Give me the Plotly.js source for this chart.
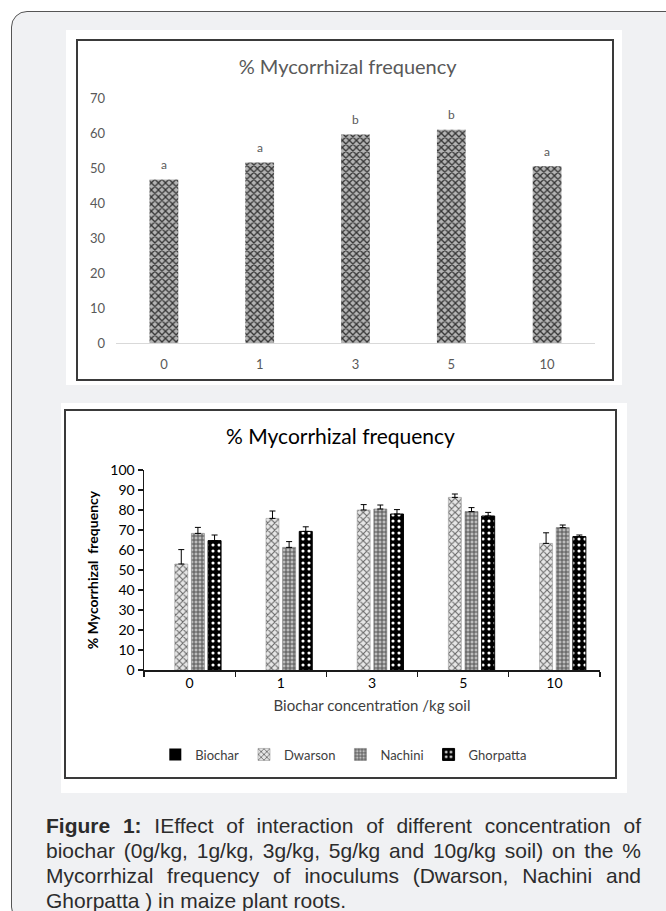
<!DOCTYPE html>
<html>
<head>
<meta charset="utf-8">
<script src="https://cdn.plot.ly/plotly-3.0.1.min.js"></script>
<style>
  html, body { margin: 0; padding: 0; background: #ffffff; }
  body { width: 666px; height: 911px; position: relative; overflow: hidden; }
  #frame { position: absolute; left: 11px; top: 11px; width: 690px; height: 912px;
           border: 1.5px solid #555; border-radius: 16px; background: #f0f1f3; box-sizing: border-box; }
  .panel { position: absolute; background: #ffffff; }
  .chart { position: absolute; }
  .box { position: absolute; border: 2px solid #3a3a3a; box-sizing: border-box; pointer-events: none; }
  #caption { position: absolute; left: 46px; top: 813px; width: 595px;
             font-family: "Liberation Sans", Arial, sans-serif; font-size: 21px; line-height: 25px; color: #2c2c2c; }
  #caption div { text-align: justify; text-align-last: justify; white-space: nowrap; }
  #caption div.last { text-align: left; text-align-last: left; }
</style>
</head>
<body>
<div id="frame"></div>
<div class="panel" style="left:66px; top:30px; width:556px; height:355px;"></div>
<div class="panel" style="left:61px; top:403px; width:566px; height:390px;"></div>
<div id="chart1" class="chart" style="left:77px; top:40px; width:536px; height:340px;"></div>
<div class="box" style="left:76px; top:39px; width:538px; height:342px;"></div>
<div id="chart2" class="chart" style="left:65px; top:410px; width:551px; height:368px;"></div>
<div class="box" style="left:64px; top:409px; width:553px; height:370px;"></div>
<div id="caption">
  <div><b>Figure 1:</b> IEffect of interaction of different concentration of</div>
  <div>biochar (0g/kg, 1g/kg, 3g/kg, 5g/kg and 10g/kg soil) on the %</div>
  <div>Mycorrhizal frequency of inoculums (Dwarson, Nachini and</div>
  <div class="last">Ghorpatta ) in maize plant roots.</div>
</div>
<script>
// Upper chart: overall % mycorrhizal frequency per biochar dose
const doses = ['0', '1', '3', '5', '10'];
const overallFreq = [46.7, 51.6, 59.6, 60.9, 50.5];
const overallLetters = ['a', 'a', 'b', 'b', 'a'];

// Lower chart: frequency per inoculum with error bars
const seriesNames = ['Biochar', 'Dwarson', 'Nachini', 'Ghorpatta'];
const biocharFreq = [0, 0, 0, 0, 0];
const dwarsonFreq = [53.0, 75.8, 80.0, 86.3, 63.3];
const nachiniFreq = [68.3, 61.3, 80.5, 79.2, 71.2];
const ghorpattaFreq = [64.7, 69.3, 78.0, 77.0, 66.7];
const biocharErr = [0, 0, 0, 0, 0];
const dwarsonErr = [7.2, 3.7, 2.7, 1.7, 5.3];
const nachiniErr = [3.0, 2.9, 2.0, 2.0, 1.3];
const ghorpattaErr = [2.8, 2.3, 2.2, 1.8, 0.8];

const calibriLike = 'Lato, "Open Sans", sans-serif';

// ---- upper chart ----
const trace1 = {
  type: 'bar',
  x: doses,
  y: overallFreq,
  marker: {
    color: '#b4b4b4',
    line: { width: 0 },
    pattern: { shape: 'x', fgcolor: '#333333', bgcolor: '#b4b4b4', size: 5, solidity: 0.45 }
  },
  hoverinfo: 'x+y'
};

const layout1 = {
  width: 536, height: 340,
  margin: { l: 39, r: 18, t: 58, b: 37 },
  paper_bgcolor: '#ffffff', plot_bgcolor: '#ffffff',
  font: { family: calibriLike, color: '#595959', size: 13 },
  title: { text: '% Mycorrhizal frequency', font: { family: calibriLike, size: 20, color: '#595959' },
           x: 0.505, xref: 'container', xanchor: 'center', y: 1 - 27 / 340, yref: 'container', yanchor: 'middle' },
  xaxis: { type: 'category', showline: true, linecolor: '#d9d9d9', linewidth: 1, ticks: '',
           showgrid: false, zeroline: false, ticklabelstandoff: 9, fixedrange: true },
  yaxis: { range: [0, 70], dtick: 10, showgrid: false, zeroline: false, showline: false, ticks: '',
           ticklabelstandoff: 10, fixedrange: true },
  bargap: 0.7,
  showlegend: false,
  // significance letters placed by category index above each bar
  annotations: overallLetters.map((t, i) => ({
    x: i, y: overallFreq[i], xref: 'x', yref: 'y', text: t,
    showarrow: false, yanchor: 'middle', yshift: 15, font: { family: calibriLike, size: 12, color: '#595959' }
  }))
};

Plotly.newPlot('chart1', [trace1], layout1, { displayModeBar: false, staticPlot: true });

// ---- lower chart ----
function inoculumTrace(name, values, errs, fill) {
  return {
    type: 'bar',
    name: name,
    x: doses,
    y: values,
    marker: { color: fill.bg, line: { width: fill.lw || 0, color: fill.lc || fill.fg }, pattern: fill.pattern },
    error_y: { type: 'data', symmetric: false, array: errs, arrayminus: errs.map(() => 0),
               color: '#000000', thickness: 1, width: 3, visible: name !== 'Biochar' }
  };
}

const traces2 = [
  inoculumTrace(seriesNames[0], biocharFreq, biocharErr,
    { bg: '#000000', fg: '#000000', pattern: { shape: '' } }),
  inoculumTrace(seriesNames[1], dwarsonFreq, dwarsonErr,
    { bg: '#e6e6e6', fg: '#666666', lw: 0.6, lc: '#9a9a9a', pattern: { shape: 'x', fgcolor: '#666666', bgcolor: '#e6e6e6', size: 5, solidity: 0.38 } }),
  inoculumTrace(seriesNames[2], nachiniFreq, nachiniErr,
    { bg: '#bdbdbd', fg: '#555555', lw: 0.6, lc: '#777777', pattern: { shape: '+', fgcolor: '#555555', bgcolor: '#bdbdbd', size: 4, solidity: 0.45 } }),
  inoculumTrace(seriesNames[3], ghorpattaFreq, ghorpattaErr,
    { bg: '#000000', fg: '#ffffff', lw: 1, lc: '#000000', pattern: { shape: '.', fgcolor: '#ffffff', bgcolor: '#000000', size: 6, solidity: 0.22 } })
];

const layout2 = {
  width: 551, height: 368,
  margin: { l: 79, r: 16, t: 60, b: 108 },
  paper_bgcolor: '#ffffff', plot_bgcolor: '#ffffff',
  font: { family: calibriLike, color: '#000000', size: 13 },
  title: { text: '% Mycorrhizal frequency', font: { family: calibriLike, size: 21, color: '#000000' },
           x: 0.5, xref: 'container', xanchor: 'center', y: 1 - 27 / 368, yref: 'container', yanchor: 'middle' },
  xaxis: { type: 'category', showline: true, linecolor: '#1a1a1a', linewidth: 1.5,
           ticks: 'outside', tickson: 'boundaries', ticklen: 5, tickwidth: 1.2, tickcolor: '#1a1a1a',
           showgrid: false, zeroline: false, fixedrange: true,
           tickfont: { family: calibriLike, size: 14, color: '#000000' },
           title: { text: 'Biochar concentration /kg soil', font: { family: calibriLike, size: 15, color: '#404040' }, standoff: 10 } },
  yaxis: { range: [0, 100], dtick: 10, showgrid: false, zeroline: false, showline: true,
           linecolor: '#1a1a1a', linewidth: 1.5, ticks: 'outside', ticklen: 5, tickwidth: 1.2, tickcolor: '#1a1a1a',
           fixedrange: true, tickfont: { family: calibriLike, size: 14, color: '#000000' },
           title: { text: '% Mycorrhizal  frequency', font: { family: calibriLike, size: 14, color: '#000000', weight: 'bold' }, standoff: 8 } },
  barmode: 'group',
  bargap: 0.27,
  bargroupgap: 0.22,
  showlegend: true,
  legend: { orientation: 'h', xref: 'container', yref: 'container', x: 0.506, xanchor: 'center',
            y: 1 - 344.5 / 368, yanchor: 'middle', font: { family: calibriLike, size: 13, color: '#404040' },
            bgcolor: 'rgba(0,0,0,0)' }
};

Plotly.newPlot('chart2', traces2, layout2, { displayModeBar: false, staticPlot: true });
</script>
</body>
</html>
